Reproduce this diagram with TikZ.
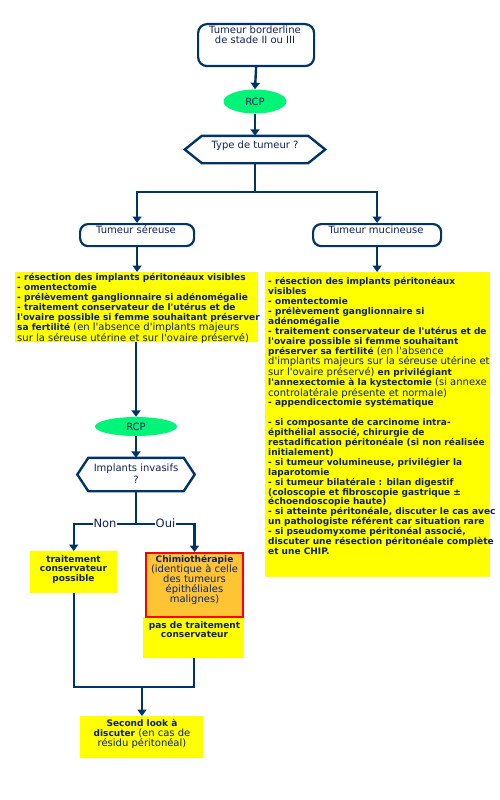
\documentclass[tikz,border=0pt]{standalone}
\usepackage{fontspec}
\setmainfont{DejaVu Sans}[Ligatures=TeXOff]
\usetikzlibrary{arrows.meta,shapes.geometric}
\definecolor{navy}{RGB}{0,51,102}
\definecolor{txt}{RGB}{16,32,90}
\definecolor{yel}{RGB}{255,255,0}
\definecolor{grn}{RGB}{0,245,120}
\definecolor{org}{RGB}{255,196,51}
\newcommand\B[1]{{\fontsize{9}{9.9}\selectfont\bfseries #1}}
\begin{document}
\begin{tikzpicture}[x=1pt,y=-1pt,
  font=\fontsize{10}{9.9}\selectfont, text=txt,
  line/.style={draw=navy, line width=2.4pt},
  arr/.style={line, -{Triangle[width=9pt,length=6.5pt]}},
  rbox/.style={draw=navy, line width=2.2pt, fill=white, rounded corners=9pt, inner sep=0, anchor=north west},
  ybox/.style={fill=yel, inner sep=0, anchor=north west},
  ell/.style={ellipse, fill=grn, inner sep=0},
  tl/.style={anchor=north west, inner sep=0, align=left},
  tc/.style={anchor=north, inner sep=0, align=center},
  lab/.style={fill=white, inner sep=1pt, font=\fontsize{11.5}{12}\selectfont},
]
\fill[white] (0,0) rectangle (500,800);
\useasboundingbox (0,0) rectangle (500,800);

% start
\node[rbox, minimum width=116pt, minimum height=42pt] (S) at (197,23) {};
\node[tc] (St) at (255,26) {Tumeur borderline\\de stade II ou III};

% RCP 1
\node[ell, minimum width=63pt, minimum height=24pt] (R1) at (255,101.5) {RCP};

% hexagon 1
\node[inner sep=0, minimum width=140pt, minimum height=27pt] (H1) at (255,149.5) {};
\node (H1t) at (255,146) {Type de tumeur ?};
\draw[line] (H1.west) -- ([xshift=17pt]H1.north west) -- ([xshift=-17pt]H1.north east) -- (H1.east)
  -- ([xshift=-17pt]H1.south east) -- ([xshift=17pt]H1.south west) -- cycle;

% tumour type boxes
\node[rbox, rounded corners=8pt, minimum width=114pt, minimum height=22pt] (T1) at (79,223) {};
\node (T1t) at (136,230) {Tumeur séreuse};
\node[rbox, rounded corners=8pt, minimum width=128pt, minimum height=22pt] (T2) at (312,223) {};
\node (T2t) at (376,230) {Tumeur mucineuse};

% yellow boxes
\node[ybox, minimum width=243pt, minimum height=70pt] (L) at (15,272) {};
\node[tl] (Lt) at (17,273.5) {\B{- résection des implants péritonéaux visibles}\\
\B{- omentectomie}\\
\B{- prélèvement ganglionnaire si adénomégalie}\\
\B{- traitement conservateur de l'utérus et de}\\
\B{l'ovaire possible si femme souhaitant préserver}\\
\B{sa fertilité} (en l'absence d'implants majeurs\\
sur la séreuse utérine et sur l'ovaire préservé)};

\node[ybox, minimum width=225pt, minimum height=305pt] (R) at (265,272) {};
\node[tl] (Rt) at (268,277.5) {\B{- résection des implants péritonéaux}\\
\B{visibles}\\
\B{- omentectomie}\\
\B{- prélèvement ganglionnaire si}\\
\B{adénomégalie}\\
\B{- traitement conservateur de l'utérus et de}\\
\B{l'ovaire possible si femme souhaitant}\\
\B{préserver sa fertilité} (en l'absence\\
d'implants majeurs sur la séreuse utérine et\\
sur l'ovaire préservé) \B{en privilégiant}\\
\B{l'annexectomie à la kystectomie} (si annexe\\
controlatérale présente et normale)\\
\B{- appendicectomie systématique}\\[9.9pt]
\B{- si composante de carcinome intra-}\\
\B{épithélial associé, chirurgie de}\\
\B{restadification péritonéale (si non réalisée}\\
\B{initialement)}\\
\B{- si tumeur volumineuse, privilégier la}\\
\B{laparotomie}\\
\B{- si tumeur bilatérale : bilan digestif}\\
\B{(coloscopie et fibroscopie gastrique ±}\\
\B{échoendoscopie haute)}\\
\B{- si atteinte péritonéale, discuter le cas avec}\\
\B{un pathologiste référent car situation rare}\\
\B{- si pseudomyxome péritonéal associé,}\\
\B{discuter une résection péritonéale complète}\\
\B{et une CHIP.}};

% RCP 2
\node[ell, minimum width=82pt, minimum height=19pt] (R2) at (136,426.5) {RCP};

% hexagon 2
\node[inner sep=0, minimum width=117pt, minimum height=33pt] (H2) at (136,474.5) {};
\node[tc] (H2t) at (136,464) {Implants invasifs\\[1.5pt]?};
\draw[line] (H2.west) -- ([xshift=11pt]H2.north west) -- ([xshift=-11pt]H2.north east) -- (H2.east)
  -- ([xshift=-11pt]H2.south east) -- ([xshift=11pt]H2.south west) -- cycle;

% outcome boxes
\node[ybox, minimum width=87pt, minimum height=42pt] (C1) at (30,551) {};
\node[tc] (C1t) at (73.5,555) {\B{traitement}\\\B{conservateur}\\\B{possible}};
\node[ybox, minimum width=101pt, minimum height=41pt] (C3) at (143,616.5) {};
\node[tc] (C3t) at (194.5,621.5) {\B{pas de traitement}\\[-0.8pt]\B{conservateur}};
\node[ybox, fill=org, draw=red, line width=2pt, minimum width=97pt, minimum height=64pt] (C2) at (145,552) {};
\node[tc] (C2t) at (194.5,555) {\B{Chimiothérapie}\\(identique à celle\\des tumeurs\\épithéliales\\malignes)};

\node[ybox, minimum width=123pt, minimum height=42pt] (E) at (80,716) {};
\node[tc] (Et) at (142,719) {\B{Second look à}\\\B{discuter} (en cas de\\résidu péritonéal)};

% connectors
\coordinate (J1) at (255,192);
\coordinate (J2) at (136,524);
\coordinate (J3) at (142,687);
\draw[arr] (S.south) -- (R1.north);
\draw[arr] (R1.south) -- (H1.north);
\draw[line] (H1.south) -- (J1);
\draw[arr] (J1) -| (T1.north);
\draw[arr] (J1) -| (T2.north);
\draw[arr] (T1.south) -- (T1.south |- L.north);
\draw[arr] (T2.south) -- (T2.south |- R.north);
\draw[arr] (R2 |- L.south) -- (R2.north);
\draw[arr] (R2.south) -- (H2.north);
\draw[line] (H2.south) -- (J2);
\draw[arr] (J2) -| (C1.north);
\draw[arr] (J2) -| (C2.north);
\draw[line] (C1.south) |- (J3);
\draw[line] (C3.south) |- (J3);
\draw[arr] (J3) -- (J3 |- E.north);
\node[lab] (non) at (105,523.5) {Non};
\node[lab] (oui) at (165.5,523.5) {Oui};
\end{tikzpicture}
\end{document}
